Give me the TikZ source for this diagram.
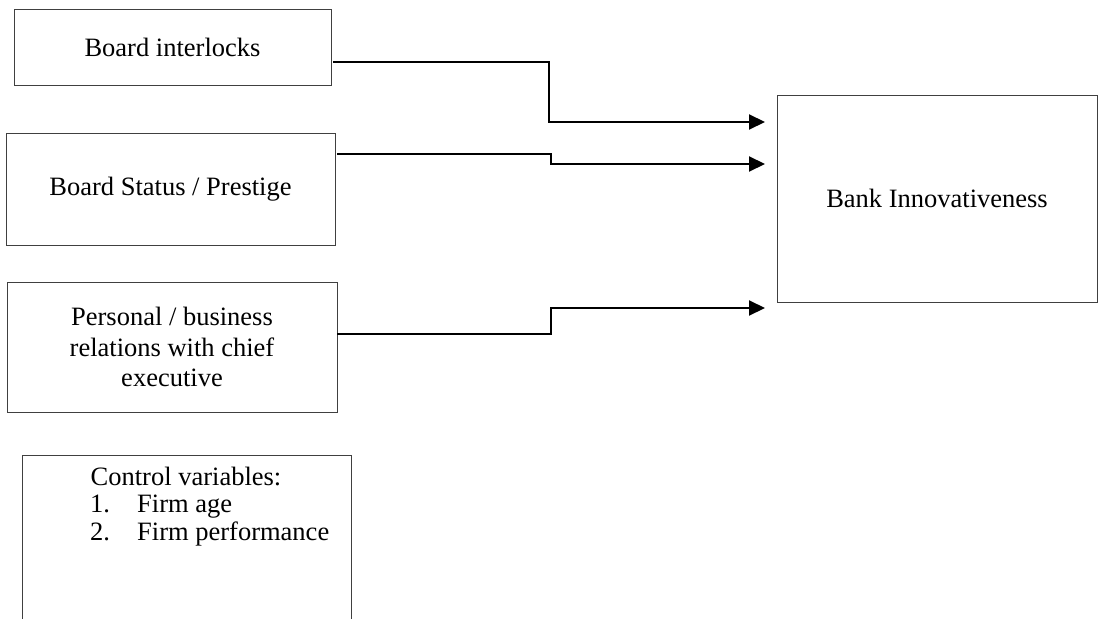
\documentclass[tikz,border=0pt]{standalone}
\usepackage{fontspec}
\setmainfont{Liberation Serif}
\usetikzlibrary{arrows.meta,calc}
\begin{document}
\begin{tikzpicture}[x=1pt,y=-1pt,
  box/.style={draw=black!75,line width=0.9pt,inner sep=0pt,align=center,
    font=\fontsize{26.5}{30.5}\selectfont},
  lbl/.style={inner sep=0pt,anchor=base west,font=\fontsize{26.5}{30.5}\selectfont},
  conn/.style={line width=2pt,-{Triangle[length=16pt,width=15pt]}}]
\useasboundingbox (0,0) rectangle (1099,618);
\node[box,minimum width=317pt,minimum height=76pt] (b1) at (172.5,47) {Board interlocks};
\node[box,minimum width=329pt,minimum height=112pt] (b2) at (170.5,189) {Board Status / Prestige};
\node[box,minimum width=330pt,minimum height=130pt] (b3) at (172,347) {Personal / business\\relations with chief\\executive};
\node[box,minimum width=329pt,minimum height=185pt] (b4) at (186.5,547.5) {};
\node[box,minimum width=320pt,minimum height=207pt] (bank) at (937,198.5) {Bank Innovativeness};
\node[lbl,anchor=base] (cv) at (186,485) {Control variables:};
\node[lbl] (n1) at (90,512.5) {1.};
\node[lbl] (i1) at (137,512.5) {Firm age};
\node[lbl] (n2) at (90,540) {2.};
\node[lbl] (i2) at (137,540) {Firm performance};
\coordinate (t1) at (765,122);
\coordinate (t2) at (765,164);
\coordinate (t3) at (765,308);
\coordinate (s1) at ($(b1.north east)+(2,53)$);
\coordinate (s2) at ($(b2.north east)+(2,21)$);
\coordinate (s3) at ($(b3.north east)+(0,52)$);
\draw[conn] (s1) -| (549,122) -- (t1);
\draw[conn] (s2) -| (551,164) -- (t2);
\draw[conn] (s3) -| (551,308) -- (t3);
\end{tikzpicture}
\end{document}
